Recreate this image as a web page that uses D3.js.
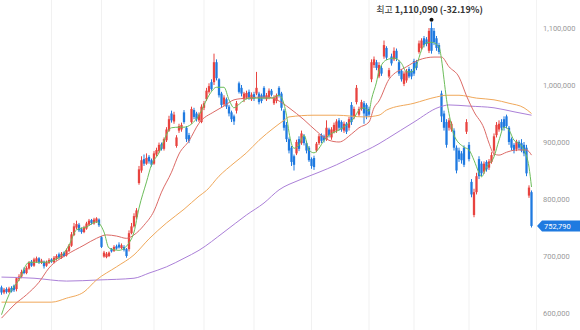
<!DOCTYPE html>
<html>
<head>
<meta charset="utf-8">
<script src="https://cdn.jsdelivr.net/npm/d3@7"></script>
<style>
  body { margin: 0; background: #fff; }
  .ytick { font-family: Roboto, sans-serif; font-size: 7.5px; fill: #9a9a9a; }
  .note { font-family: "Noto Sans CJK KR", Roboto, sans-serif; font-size: 9px; fill: #333; }
</style>
</head>
<body>
<div class="price-chart"></div>
<script>
// price values in thousands of won, one entry per trading day
const openV = [645,636,642,637,644,648,642,660,664,676,670,678,690,683,690,696,688,690,683,688,
  694,689,695,703,697,706,701,709,718,737,750,755,747,742,748,755,763,757,760,764,
  733,699,698,700,712,709,717,720,714,716,712,712,740,752,768,828,850,870,862,874,
  868,862,878,884,896,888,903,920,950,936,893,920,922,952,925,912,935,956,950,938,
  935,960,975,988,1005,1005,1040,1010,985,966,975,962,952,945,955,1003,995,975,978,988,
  975,984,985,985,982,995,975,978,990,968,972,995,985,955,930,905,890,875,880,905,
  898,910,898,890,870,872,885,898,912,910,905,922,908,918,920,938,935,920,932,925,
  965,945,970,948,958,968,965,958,1010,1035,1040,1015,1030,1050,1065,1015,1050,1045,1060,1040,
  1025,1002,1008,1028,1025,1042,1040,1058,1065,1082,1080,1060,1100,1095,1082,1070,985,950,935,925,
  922,920,890,885,880,890,918,895,830,772,812,870,862,848,865,855,865,885,912,922,
  935,940,945,925,905,895,888,900,898,895,890,806,812];
const highV = [648,644,645,646,647,650,662,668,676,680,682,691,693,697,699,698,695,692,692,696,
  696,700,703,706,707,708,713,721,742,758,762,758,750,753,760,765,765,767,768,766,
  735,709,707,708,714,719,720,724,722,719,714,745,758,775,784,858,875,878,880,877,
  871,884,890,899,899,908,926,946,955,953,912,932,934,956,928,916,962,960,953,952,
  966,972,995,1003,1010,1055,1045,1012,988,982,978,965,955,948,972,1006,1000,988,990,992,
  987,988,1023,988,985,998,986,994,993,982,985,998,988,958,935,908,893,878,904,910,
  920,914,902,893,873,876,900,914,915,913,938,925,926,934,940,942,938,936,935,944,
  970,962,1000,962,974,972,968,962,1045,1050,1044,1040,1034,1078,1068,1030,1055,1066,1064,1044,
  1028,1024,1028,1032,1028,1046,1044,1078,1082,1086,1084,1100,1110.09,1100,1086,1074,990,955,940,942,
  936,924,894,890,884,894,940,900,835,818,846,875,866,866,868,870,882,915,935,938,
  940,945,948,928,908,898,904,903,905,900,895,824,815];
const lowV = [632,633,634,635,636,637,638,656,661,668,668,676,681,681,688,686,686,678,681,686,
  688,687,692,695,695,698,699,707,716,735,747,742,739,740,746,753,755,755,758,751,
  714,697,696,698,706,707,711,713,712,708,697,708,738,750,765,825,846,858,860,862,
  857,860,875,881,885,885,900,918,934,932,890,916,918,932,900,898,932,940,936,935,
  933,956,972,985,990,1000,1008,978,960,963,958,945,935,930,950,985,980,970,975,974,
  972,972,982,966,968,975,972,975,980,965,968,978,955,920,900,880,858,850,877,884,
  895,894,880,865,853,851,882,895,898,899,902,908,904,915,916,920,918,916,914,920,
  930,940,966,945,955,932,940,944,1005,1030,1026,1012,1016,1046,1044,1012,1034,1042,1042,1016,
  1006,998,1004,1012,1010,1016,1026,1055,1062,1066,1068,1056,1055,1070,1060,1054,935,920,890,920,
  918,885,845,865,862,856,914,866,803,768,808,835,840,844,848,851,862,876,908,918,
  920,920,924,895,885,880,884,886,882,875,840,802,750];
const closeV = [636,641,637,643,638,640,661,664,672,670,679,688,683,694,696,689,692,682,689,693,
  690,697,700,697,704,700,710,718,738,752,756,745,742,750,757,762,758,764,766,754,
  716,706,704,706,708,716,713,715,719,711,700,740,752,770,780,852,868,862,872,866,
  860,880,886,895,888,905,922,940,938,948,908,928,930,935,905,902,958,944,940,948,
  962,968,990,998,993,1040,1012,982,965,978,962,950,940,936,968,988,985,985,986,978,
  983,976,995,970,972,978,982,990,983,978,982,982,960,925,905,885,865,860,900,888,
  915,898,885,868,858,856,897,910,902,903,925,912,922,930,936,925,922,932,918,940,
  935,958,995,958,970,950,945,948,1040,1045,1030,1035,1020,1070,1048,1026,1038,1060,1046,1020,
  1010,1020,1024,1015,1015,1020,1030,1073,1078,1070,1072,1095,1060,1075,1065,1058,945,925,895,938,
  932,890,850,870,868,860,935,870,808,812,840,840,845,862,852,866,877,910,930,932,
  925,925,928,900,890,885,900,890,885,880,845,820,752.79];

// moving averages: day index and value
const ma5Day = [0,3,7,11,17,23,27,30,34,38,41,43,47,51,53,55,58,60,63,65,68,71,73,79,83,86,89,91,93,96,
  99,103,108,111,114,115,117,119,121,123,125,127,129,131,135,138,141,143,145,147,148,150,151,154,157,160,
  162,164,166,168,170,172,175,176,177,178,179,181,185,187,189,191,192,194,197,199,201,203,205,207,209,211,212];
const ma5Val = [597,632,658,689,689,697,719,746,751,760,742,714,710,723,742,784,830,860,881,903,925,926,926,947,982,996,
  996,974,960,970,977,977,977,982,947,917,889,895,912,886,881,889,903,912,921,930,942,956,960,954,975,1005,1025,1044,1047,1038,
  1023,1023,1035,1061,1074,1075,1067,1045,1010,975,950,912,891,886,868,846,839,856,874,903,926,921,903,898,886,856,821];

const ma20Day = [0,3,5,10,15,19,26,33,38,42,46,50,53,57,61,64,68,71,75,79,85,89,93,98,106,111,115,121,126,131,
  135,140,143,147,149,151,155,162,167,173,176,179,183,186,189,193,195,197,199,202,206,210,212];
const ma20Val = [591,605,614,632,654,679,702,719,731,737,735,731,737,754,779,812,847,879,902,933,953,963,974,977,979,972,960,939,919,903,
  900,914,925,935,960,972,1010,1032,1044,1049,1049,1032,1014,981,953,924,898,879,877,882,886,886,877];

const ma60Day = [0,20,26,33,38,46,53,59,66,73,79,82,87,93,98,103,109,113,115,125,134,145,151,154,165,174,178,183,190,197,203,209,212];
const ma60Val = [619,619,626,637,658,681,702,730,758,782,805,815,840,863,881,903,925,938,944,947,947,944,947,956,968,979,982,982,977,974,968,960,950];

const ma120Day = [0,13,26,39,53,59,66,73,79,89,98,105,111,119,127,134,141,151,154,165,175,179,187,197,205,212];
const ma120Val = [663,661,656,658,661,670,681,696,710,742,772,793,816,833,847,860,875,897,905,935,961,965,963,960,953,947];

const yTicks = [600, 700, 800, 900, 1000, 1100];
const monthStarts = [20, 40, 61, 81, 101, 124, 147, 165, 187];
const peakDay = 172;

const width = 580;
const height = 330;
const svg = d3.select(".price-chart")
  .append("svg")
  .attr("width", width)
  .attr("height", height);

const x = d3.scaleLinear().domain([0, closeV.length - 1]).range([1.5, 531.5]);
const y = d3.scaleLinear().domain([600, 1100]).range([313, 28]);

const candles = closeV.map((c, i) => ({ i, o: openV[i], h: highV[i], l: lowV[i], c }));

// faint month gridlines
svg.selectAll(".grid")
  .data(monthStarts)
  .enter()
  .append("line")
  .attr("x1", d => x(d)).attr("x2", d => x(d))
  .attr("y1", 0).attr("y2", height)
  .attr("stroke", "#f1f1f1")
  .attr("stroke-width", 1);
svg.append("line")
  .attr("x1", 536.5).attr("x2", 536.5)
  .attr("y1", 0).attr("y2", height)
  .attr("stroke", "#f3f3f3");

// candles: red up, blue down
const up = "#e8433f";
const down = "#1f7ae0";
svg.selectAll(".wick")
  .data(candles)
  .enter()
  .append("line")
  .attr("x1", d => x(d.i)).attr("x2", d => x(d.i))
  .attr("y1", d => y(d.h)).attr("y2", d => y(d.l))
  .attr("stroke", d => d.c >= d.o ? up : down)
  .attr("stroke-width", 1);
svg.selectAll(".body")
  .data(candles)
  .enter()
  .append("rect")
  .attr("x", d => x(d.i) - 1.15)
  .attr("width", 2.3)
  .attr("y", d => y(Math.max(d.o, d.c)))
  .attr("height", d => Math.max(1, Math.abs(y(d.o) - y(d.c))))
  .attr("fill", d => d.c >= d.o ? up : down);

// moving average lines
const maLine = d3.line()
  .x(d => x(d[0]))
  .y(d => y(d[1]))
  .curve(d3.curveMonotoneX);
const mas = [
  [ma120Day, ma120Val, "#ab80d8"],
  [ma60Day, ma60Val, "#f0a85a"],
  [ma20Day, ma20Val, "#dc6a66"],
  [ma5Day, ma5Val, "#6cbd5a"]
];
mas.forEach(([days, vals, col]) => {
  svg.append("path")
    .datum(days.map((d, k) => [d, vals[k]]))
    .attr("d", maLine)
    .attr("fill", "none")
    .attr("stroke", col)
    .attr("stroke-width", 1);
});

// right axis labels
svg.selectAll(".ytick")
  .data(yTicks)
  .enter()
  .append("text")
  .attr("class", "ytick")
  .attr("x", 543)
  .attr("y", d => y(d))
  .attr("dy", "0.35em")
  .text(d => d3.format(",")(d * 1000));

// last price tag
const last = closeV[closeV.length - 1];
const ly = y(last);
svg.append("path")
  .attr("d", `M537,${ly} L542,${ly - 5.5} L580,${ly - 5.5} L580,${ly + 5.5} L542,${ly + 5.5} Z`)
  .attr("fill", "#1f7ae0");
svg.append("text")
  .attr("class", "ytick")
  .attr("x", 544)
  .attr("y", ly)
  .attr("dy", "0.35em")
  .style("fill", "#fff")
  .text(d3.format(",")(Math.round(last * 1000)));

// high marker
const peak = highV[peakDay];
const change = (last - peak) / peak * 100;
svg.append("circle")
  .attr("cx", x(peakDay))
  .attr("cy", y(peak) - 2.5)
  .attr("r", 2)
  .attr("fill", "#111");
const note = svg.append("text")
  .attr("class", "note")
  .attr("x", x(peakDay) - 2)
  .attr("y", 13)
  .attr("text-anchor", "middle");
note.append("tspan").text("최고 ");
note.append("tspan")
  .attr("font-weight", 600)
  .text(`${d3.format(",")(Math.round(peak * 1000))} (-${Math.abs(change).toFixed(2)}%)`);
</script>
</body>
</html>
